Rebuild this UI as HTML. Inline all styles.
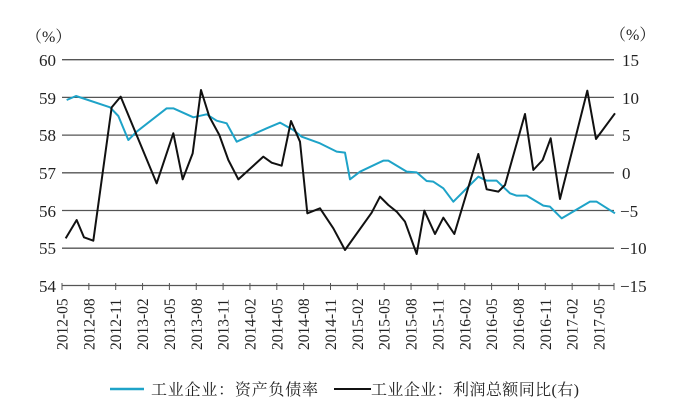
<!DOCTYPE html>
<html><head><meta charset="utf-8"><style>
body{margin:0;background:#fff;}
svg text{font-family:"Liberation Serif","Noto Serif CJK SC",serif;fill:#222;}
</style></head><body>
<svg width="700" height="404" viewBox="0 0 700 404" xmlns="http://www.w3.org/2000/svg">
<g stroke="#555" stroke-width="1.3">
<line x1="62" x2="614" y1="59.7" y2="59.7"/>
<line x1="62" x2="614" y1="97.4" y2="97.4"/>
<line x1="62" x2="614" y1="135.1" y2="135.1"/>
<line x1="62" x2="614" y1="172.8" y2="172.8"/>
<line x1="62" x2="614" y1="210.5" y2="210.5"/>
<line x1="62" x2="614" y1="248.2" y2="248.2"/>
<line x1="62" x2="614" y1="285.5" y2="285.5"/>
</g>
<g stroke="#555" stroke-width="1">
<line x1="62" x2="62" y1="283" y2="290"/><line x1="88.85" x2="88.85" y1="283" y2="290"/><line x1="115.7" x2="115.7" y1="283" y2="290"/><line x1="142.55" x2="142.55" y1="283" y2="290"/><line x1="169.4" x2="169.4" y1="283" y2="290"/><line x1="196.25" x2="196.25" y1="283" y2="290"/><line x1="223.1" x2="223.1" y1="283" y2="290"/><line x1="249.95" x2="249.95" y1="283" y2="290"/><line x1="276.8" x2="276.8" y1="283" y2="290"/><line x1="303.65" x2="303.65" y1="283" y2="290"/><line x1="330.5" x2="330.5" y1="283" y2="290"/><line x1="357.35" x2="357.35" y1="283" y2="290"/><line x1="384.2" x2="384.2" y1="283" y2="290"/><line x1="411.05" x2="411.05" y1="283" y2="290"/><line x1="437.9" x2="437.9" y1="283" y2="290"/><line x1="464.75" x2="464.75" y1="283" y2="290"/><line x1="491.6" x2="491.6" y1="283" y2="290"/><line x1="518.45" x2="518.45" y1="283" y2="290"/><line x1="545.3" x2="545.3" y1="283" y2="290"/><line x1="572.15" x2="572.15" y1="283" y2="290"/><line x1="599" x2="599" y1="283" y2="290"/><line x1="614" x2="614" y1="283" y2="290"/>
</g>
<g font-size="17" text-anchor="end">
<text x="56" y="66">60</text><text x="56" y="104">59</text><text x="56" y="141">58</text><text x="56" y="179">57</text><text x="56" y="217">56</text><text x="56" y="254">55</text><text x="56" y="292">54</text>
</g>
<g font-size="17" text-anchor="start">
<text x="622" y="66">15</text><text x="622" y="104">10</text><text x="622" y="141">5</text><text x="622" y="179">0</text><text x="620" y="217">−5</text><text x="620" y="254">−10</text><text x="620" y="292">−15</text>
</g>
<text x="26" y="42" font-size="16">（%）</text>
<text x="610" y="40" font-size="16">（%）</text>
<g transform="translate(0,20) scale(0.33333)" fill="none" stroke-linejoin="round">
<polyline vector-effect="non-scaling-stroke" stroke="#1ea3c8" stroke-width="2" points="200,240 228,228 330,262 355,288 385,360 410,335 500,265 520,265 580,292 620,283 650,302 680,310 710,365 800,325 840,308 880,330 905,350 960,370 1010,395 1035,398 1050,478 1080,455 1150,422 1165,422 1220,455 1250,457 1280,483 1300,485 1330,505 1360,545 1435,470 1460,482 1490,482 1530,520 1550,527 1580,527 1630,557 1650,560 1685,595 1770,545 1790,545 1845,580"/>
<polyline vector-effect="non-scaling-stroke" stroke="#111" stroke-width="2" points="197,655 230,600 252,652 280,662 335,262 362,230 470,490 520,340 548,478 578,400 603,210 628,290 658,345 685,420 715,478 790,410 815,428 845,437 873,303 900,365 922,580 960,565 1000,625 1035,690 1115,578 1140,530 1165,555 1190,575 1215,605 1250,702 1273,572 1305,642 1330,593 1363,642 1435,402 1460,508 1495,515 1515,495 1575,282 1600,450 1628,420 1652,355 1680,537 1762,212 1788,357 1845,280"/>
</g>
<g font-size="15.5">
<text transform="translate(67.5,350) rotate(-90)">2012-05</text>
<text transform="translate(94.35,350) rotate(-90)">2012-08</text>
<text transform="translate(121.2,350) rotate(-90)">2012-11</text>
<text transform="translate(148.05,350) rotate(-90)">2013-02</text>
<text transform="translate(174.9,350) rotate(-90)">2013-05</text>
<text transform="translate(201.75,350) rotate(-90)">2013-08</text>
<text transform="translate(228.6,350) rotate(-90)">2013-11</text>
<text transform="translate(255.45,350) rotate(-90)">2014-02</text>
<text transform="translate(282.3,350) rotate(-90)">2014-05</text>
<text transform="translate(309.15,350) rotate(-90)">2014-08</text>
<text transform="translate(336,350) rotate(-90)">2014-11</text>
<text transform="translate(362.85,350) rotate(-90)">2015-02</text>
<text transform="translate(389.7,350) rotate(-90)">2015-05</text>
<text transform="translate(416.55,350) rotate(-90)">2015-08</text>
<text transform="translate(443.4,350) rotate(-90)">2015-11</text>
<text transform="translate(470.25,350) rotate(-90)">2016-02</text>
<text transform="translate(497.1,350) rotate(-90)">2016-05</text>
<text transform="translate(523.95,350) rotate(-90)">2016-08</text>
<text transform="translate(550.8,350) rotate(-90)">2016-11</text>
<text transform="translate(577.65,350) rotate(-90)">2017-02</text>
<text transform="translate(604.5,350) rotate(-90)">2017-05</text>
</g>
<line x1="110" x2="144" y1="389" y2="389" stroke="#1ea3c8" stroke-width="2.5"/>
<text x="151" y="395" font-size="16" textLength="167">工业企业：资产负债率</text>
<line x1="334" x2="371" y1="389" y2="389" stroke="#111" stroke-width="2"/>
<text x="371" y="395" font-size="16" textLength="208">工业企业：利润总额同比(右)</text>
</svg>
</body></html>
